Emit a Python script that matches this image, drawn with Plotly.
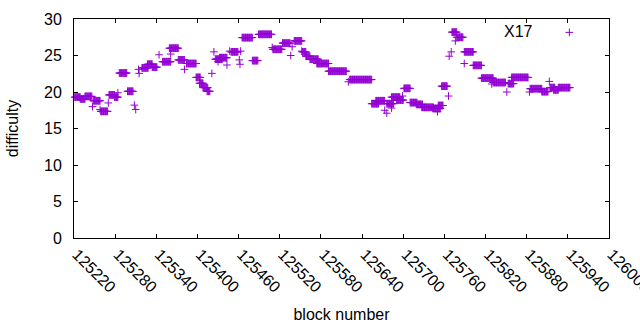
import plotly.graph_objects as go

# Runs of consecutive blocks sharing the same difficulty (start block, end block, value)
run_start = [125221, 125229, 125236, 125248, 125259, 125271, 125279, 125286, 125298, 125319,
             125327, 125334, 125349, 125359, 125372, 125384, 125398, 125403, 125408, 125414,
             125426, 125432, 125449, 125465, 125480, 125489, 125510, 125524, 125541, 125553,
             125558, 125564, 125574, 125591, 125622, 125654, 125660, 125676, 125683, 125690,
             125701, 125710, 125719, 125727, 125743, 125751, 125756, 125771, 125778, 125789,
             125802, 125814, 125831, 125853, 125858, 125885, 125902, 125914, 125919, 125926]
run_end = [125229, 125236, 125246, 125258, 125269, 125279, 125284, 125297, 125306, 125328,
           125334, 125341, 125361, 125372, 125381, 125398, 125404, 125408, 125415, 125418,
           125436, 125443, 125459, 125480, 125488, 125508, 125523, 125535, 125552, 125558,
           125564, 125576, 125591, 125617, 125654, 125664, 125673, 125686, 125695, 125700,
           125710, 125720, 125728, 125744, 125754, 125758, 125764, 125778, 125787, 125802,
           125814, 125831, 125849, 125861, 125882, 125902, 125911, 125921, 125926, 125943]
run_value = [19.3, 19.05, 19.4, 18.8, 17.35, 19.6, 19.3, 22.6, 20.1, 23.3,
             23.8, 23.4, 24.15, 26.0, 24.4, 23.9, 22.0, 21.2, 20.6, 20.1,
             24.5, 24.7, 25.5, 27.45, 24.3, 27.9, 25.85, 26.7, 27.0, 25.5,
             24.9, 24.5, 23.9, 22.85, 21.7, 18.4, 18.8, 18.4, 19.3, 18.9,
             20.5, 18.55, 18.3, 17.9, 17.75, 18.15, 20.8, 28.2, 27.5, 25.5,
             23.65, 21.9, 21.3, 21.15, 22.0, 20.45, 20.05, 20.6, 20.3, 20.6]

# Isolated blocks
single_block = [125247, 125258, 125270, 125284, 125308, 125310, 125314, 125315, 125344, 125361,
                125381, 125421, 125424, 125430, 125443, 125447, 125461, 125462, 125463, 125509,
                125536, 125538, 125552, 125620, 125673, 125676, 125683, 125699, 125750, 125766,
                125767, 125770, 125776, 125789, 125829, 125851, 125884, 125913]
single_value = [18.0, 17.6, 18.5, 19.9, 18.2, 17.6, 23.1, 22.55, 25.1, 25.2,
                23.1, 22.55, 25.5, 24.15, 23.7, 25.6, 24.4, 23.8, 25.6, 26.1,
                25.0, 26.2, 25.6, 21.4, 17.5, 17.1, 17.8, 19.45, 17.3, 19.45,
                24.9, 25.5, 27.0, 23.9, 21.1, 20.0, 20.0, 21.45]

x_tick_values = [125220, 125280, 125340, 125400, 125460, 125520, 125580,
                 125640, 125700, 125760, 125820, 125880, 125940, 126000]
x_tick_labels = [str(v) for v in x_tick_values]
y_tick_values = [0, 5, 10, 15, 20, 25, 30]

blocks, diffs = [], []
for s, e, v in zip(run_start, run_end, run_value):
    for b in range(s, e + 1):
        blocks.append(b)
        diffs.append(v)
blocks += single_block
diffs += single_value

color = "#9400D3"
font = "Liberation Sans, Arial, sans-serif"

fig = go.Figure()
fig.add_trace(go.Scatter(
    x=blocks, y=diffs, mode="markers", name="",
    marker=dict(symbol="cross-thin", size=5.5, line=dict(color=color, width=1), color=color),
    cliponaxis=False, showlegend=True,
))

axis_common = dict(
    showline=True, linecolor="black", linewidth=1, mirror="ticks",
    ticks="inside", ticklen=4, tickcolor="black", tickwidth=1,
    showgrid=False, zeroline=False, automargin=False,
    tickfont=dict(family=font, size=16, color="black"),
)

fig.update_layout(
    width=640, height=330,
    margin=dict(l=74, r=31, t=19, b=92),
    paper_bgcolor="white", plot_bgcolor="white",
    font=dict(family=font, size=16, color="black"),
    xaxis=dict(range=[125220, 126000], tickvals=x_tick_values, ticktext=x_tick_labels,
               tickangle=45, ticklabeloverflow="allow", ticklabelshift=3,
               title=dict(text="block number", font=dict(size=16), standoff=13), **axis_common),
    yaxis=dict(range=[0, 30], tickvals=y_tick_values,
               title=dict(text="difficulty", font=dict(size=16), standoff=21),
               ticklabelstandoff=8, **axis_common),
    legend=dict(x=0.80, y=1.013, xanchor="left", yanchor="top",
                title=dict(text="X17\u00a0\u00a0", side="left", font=dict(size=16)),
                bgcolor="rgba(0,0,0,0)", font=dict(size=15), itemwidth=30),
)

fig.write_html("out.html", config={"displayModeBar": False},
               post_script="document.body.style.margin='0';")
